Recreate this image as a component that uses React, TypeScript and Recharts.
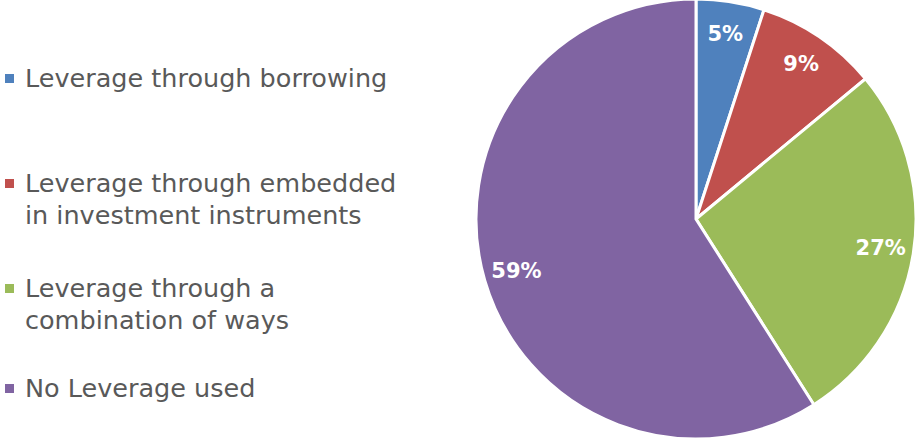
import { Pie, PieChart, Cell } from 'recharts'

const CATEGORIES = [
  ['Leverage through borrowing'],
  ['Leverage through embedded', 'in investment instruments'],
  ['Leverage through a', 'combination of ways'],
  ['No Leverage used'],
]
const VALUES = [5, 9, 27, 59]
const COLORS = ['#4F81BD', '#C0504D', '#9BBB59', '#8064A2']
const LEGEND_TOPS = [62, 167, 272, 372]

const DATA = CATEGORIES.map((lines, i) => ({ name: lines.join(' '), value: VALUES[i] }))

const RAD = Math.PI / 180
const FONT = '"DejaVu Sans", Verdana, sans-serif'

function SliceLabel(props: any) {
  const { cx, cy, midAngle, outerRadius, value } = props
  const r = outerRadius * 0.85
  const x = cx + r * Math.cos(-midAngle * RAD)
  const y = cy + r * Math.sin(-midAngle * RAD)
  return (
    <text x={x} y={y} fill="#fff" fontSize={21} fontWeight="bold" fontFamily={FONT} textAnchor="middle" dominantBaseline="central">
      {value}%
    </text>
  )
}

export default function App() {
  return (
    <div style={{ position: 'absolute', left: 0, top: 0, width: 917, height: 440, background: '#fff', fontFamily: FONT }}>
      {CATEGORIES.map((lines, i) => (
        <div key={i} style={{ position: 'absolute', left: 0, top: LEGEND_TOPS[i] }}>
          {lines.map((line, j) => (
            <div key={j} style={{ position: 'relative', height: 32, lineHeight: '32px', paddingLeft: 25, fontSize: 25.5, color: '#595959', whiteSpace: 'nowrap' }}>
              {j === 0 && (
                <span style={{ position: 'absolute', left: 5, top: 12, width: 9, height: 9, background: COLORS[i] }} />
              )}
              {line}
            </div>
          ))}
        </div>
      ))}
      <div style={{ position: 'absolute', left: 0, top: 0 }}>
        <PieChart width={917} height={440} margin={{ top: 0, right: 0, bottom: 0, left: 0 }}>
          <Pie
            data={DATA}
            dataKey="value"
            nameKey="name"
            cx={696}
            cy={219}
            outerRadius={220}
            startAngle={90}
            endAngle={-270}
            stroke="#fff"
            strokeWidth={3}
            label={SliceLabel}
            labelLine={false}
            isAnimationActive={false}
          >
            {DATA.map((_, i) => (
              <Cell key={i} fill={COLORS[i]} />
            ))}
          </Pie>
        </PieChart>
      </div>
    </div>
  )
}
